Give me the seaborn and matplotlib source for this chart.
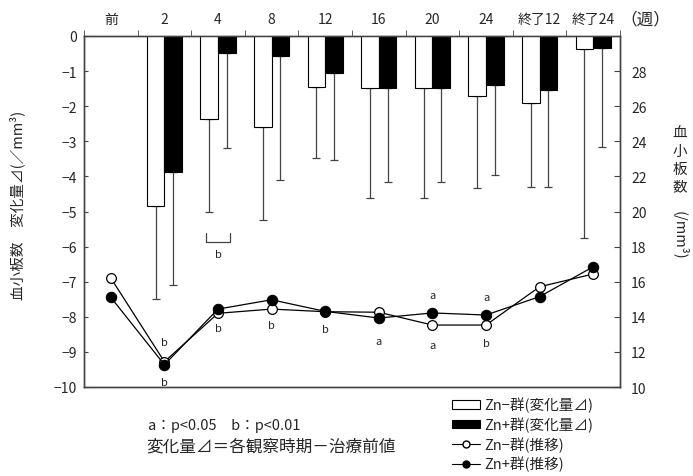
import numpy as np
import pandas as pd
import matplotlib
matplotlib.use('Agg')
import matplotlib.pyplot as plt
import seaborn as sns
from matplotlib.patches import Patch
from matplotlib.lines import Line2D

# Data
weeks = ['前', '2', '4', '8', '12', '16', '20', '24', '終了12', '終了24']

# change (left axis, x10^4 /mm3) -- bars hang down from 0
delta_minus = [np.nan, -4.83, -2.36, -2.60, -1.46, -1.48, -1.48, -1.72, -1.92, -0.37]
delta_plus = [np.nan, -3.87, -0.49, -0.58, -1.06, -1.48, -1.48, -1.40, -1.54, -0.35]
# lower end of the SD whisker
err_minus = [np.nan, -7.49, -5.00, -5.23, -3.47, -4.62, -4.62, -4.33, -4.30, -5.76]
err_plus = [np.nan, -7.09, -3.19, -4.10, -3.53, -4.15, -4.15, -3.96, -4.30, -3.15]

# platelet count trend (right axis)
trend_minus = [16.21, 11.44, 14.20, 14.44, 14.29, 14.26, 13.53, 13.53, 15.71, 16.44]
trend_plus = [15.11, 11.27, 14.44, 14.97, 14.31, 13.93, 14.22, 14.10, 15.15, 16.85]

# significance letters (category index, right axis value, letter)
sig_marks = [(1, 12.56, 'b'), (1, 10.28, 'b'), (2, 13.36, 'b'), (3, 13.53, 'b'),
             (4, 13.30, 'b'), (5, 12.64, 'a'), (6, 15.26, 'a'), (6, 12.41, 'a'),
             (7, 15.15, 'a'), (7, 12.50, 'b')]

sns.set_style('ticks')
plt.rcParams['font.family'] = ['Noto Sans CJK JP', 'DejaVu Sans']
plt.rcParams['axes.unicode_minus'] = True

grey = '#444444'

fig = plt.figure(figsize=(6.93, 4.77), dpi=100)
ax = fig.add_axes([84 / 693, 89 / 477, 536 / 693, 351 / 477])

bars = pd.DataFrame({
    'week': weeks * 2,
    'group': ['Zn-'] * len(weeks) + ['Zn+'] * len(weeks),
    'delta': delta_minus + delta_plus,
})
sns.barplot(data=bars, x='week', y='delta', hue='group', order=weeks,
            hue_order=['Zn-', 'Zn+'], palette={'Zn-': 'white', 'Zn+': 'black'},
            edgecolor='black', linewidth=0.8, width=0.66, errorbar=None,
            legend=False, ax=ax, zorder=3)

# one-sided (downward) error bars
off = 0.165
xs = np.arange(len(weeks))
for sign, vals, ends in [(-1, delta_minus, err_minus), (1, delta_plus, err_plus)]:
    v = np.array(vals)
    e = np.array(ends)
    ok = ~np.isnan(v)
    ax.errorbar(xs[ok] + sign * off, v[ok], yerr=[v[ok] - e[ok], np.zeros(ok.sum())],
                fmt='none', ecolor=grey, elinewidth=0.9, capsize=2.8, capthick=0.9, zorder=2)

# bracket under week 4
ax.plot([1.78, 1.78, 2.22, 2.22], [-5.61, -5.88, -5.88, -5.61], color=grey, lw=0.9)
ax.text(2, -6.22, 'b', ha='center', va='center', fontsize=8)

ax.set_ylim(-10, 0)
ax.set_yticks(range(-10, 1))
ax.set_ylabel('')
ax.set_xlabel('')
ax.tick_params(axis='y', direction='in', length=3, color=grey, labelsize=10, pad=5)

ax.xaxis.tick_top()
ax.set_xticks(xs)
ax.set_xticklabels(weeks)
ax.set_xticks(np.arange(-0.5, len(weeks), 1), minor=True)
ax.tick_params(axis='x', which='major', length=0, labelsize=10, pad=7)
ax.tick_params(axis='x', which='minor', direction='out', length=4, color=grey,
               top=True, bottom=False)

# trend lines on right axis
ax2 = ax.twinx()
sns.lineplot(x=xs, y=trend_minus, ax=ax2, color='black', lw=0.9, marker='o',
             markersize=7, markerfacecolor='white', markeredgecolor='black',
             markeredgewidth=0.9, zorder=3)
sns.lineplot(x=xs, y=trend_plus, ax=ax2, color='black', lw=0.9, marker='o',
             markersize=7.5, markerfacecolor='black', markeredgecolor='black', zorder=4)
for i, yv, lab in sig_marks:
    ax2.text(i, yv, lab, ha='center', va='center', fontsize=8)

ax2.set_ylim(10, 30)
ax2.set_yticks(range(10, 30, 2))
ax2.set_ylabel('')
ax2.tick_params(axis='y', direction='in', length=4, color=grey, labelsize=10, pad=8)
ax.set_xlim(-0.5, len(weeks) - 0.5)

for a in (ax, ax2):
    for s in a.spines.values():
        s.set_color(grey)
        s.set_linewidth(1.0)

# axis titles
fig.text(17 / 693, 1 - 205 / 477, '血小板数　変化量⊿(／mm³)', rotation=90,
         ha='center', va='center', fontsize=10.5)
fig.text(680 / 693, 1 - 127 / 477, '血\n小\n板\n数', ha='center', va='top',
         fontsize=10.5, linespacing=1.35)
fig.text(680 / 693, 1 - 211 / 477, '(/mm³)', rotation=-90, ha='center', va='top',
         fontsize=10.5)
fig.text(645 / 693, 1 - 20 / 477, '（週）', ha='center', va='center', fontsize=12)

# notes
fig.text(148 / 693, 1 - 426 / 477, 'a：p<0.05　b：p<0.01', ha='left', va='center',
         fontsize=10.5)
fig.text(146 / 693, 1 - 447 / 477, '変化量⊿＝各観察時期－治療前値', ha='left',
         va='center', fontsize=12)

handles = [
    Patch(facecolor='white', edgecolor='black', linewidth=0.8),
    Patch(facecolor='black', edgecolor='black', linewidth=0.8),
    Line2D([0], [0], color='black', lw=0.8, marker='o', markersize=5,
           markerfacecolor='white', markeredgecolor='black'),
    Line2D([0], [0], color='black', lw=0.8, marker='o', markersize=5,
           markerfacecolor='black', markeredgecolor='black'),
]
labels = ['Zn−群(変化量⊿)', 'Zn+群(変化量⊿)', 'Zn−群(推移)', 'Zn+群(推移)']
fig.legend(handles, labels, loc='upper left', bbox_to_anchor=(452 / 693, 1 - 398 / 477),
           frameon=False, fontsize=10.5, handlelength=1.9, handleheight=0.55,
           handletextpad=0.3, labelspacing=0.28, borderpad=0, borderaxespad=0)

fig.savefig('out.png', dpi=100)
